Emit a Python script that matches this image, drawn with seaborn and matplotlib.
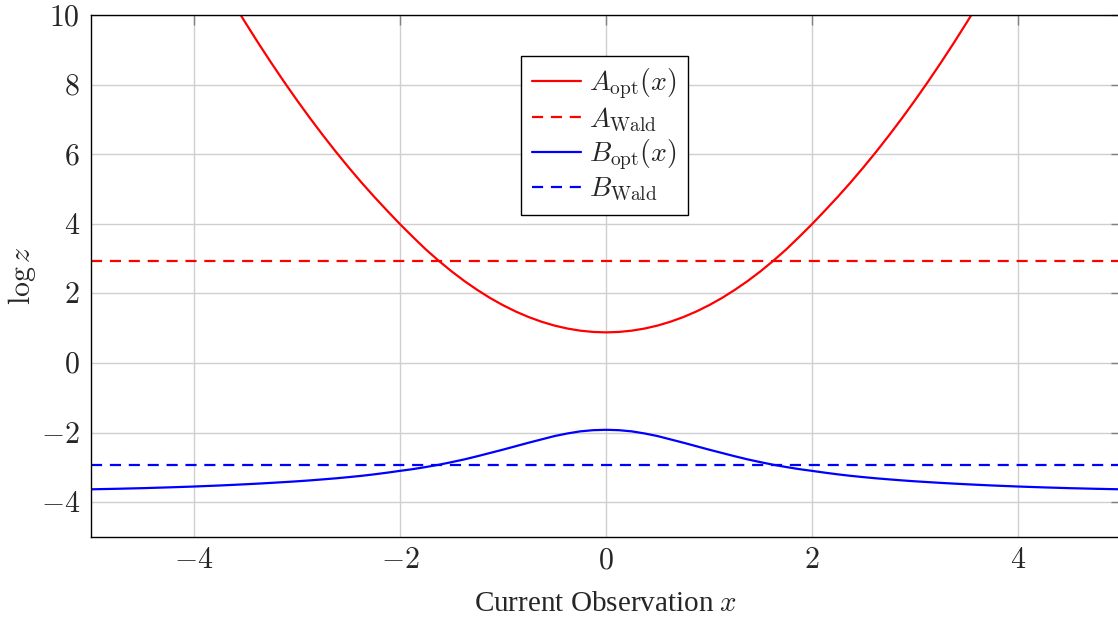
import numpy as np
import pandas as pd
import matplotlib
matplotlib.use("Agg")
import matplotlib.pyplot as plt
import seaborn as sns

# values
x_vals = [-5.0, -4.75, -4.5, -4.25, -4.0, -3.75, -3.625, -3.5, -3.375, -3.25, -3.125, -3.0,
          -2.875, -2.75, -2.625, -2.5, -2.375, -2.25, -2.125, -2.0, -1.875, -1.75, -1.625,
          -1.5, -1.375, -1.25, -1.125, -1.0, -0.875, -0.75, -0.625, -0.5, -0.375, -0.25,
          -0.125, 0.0, 0.125, 0.25, 0.375, 0.5, 0.625, 0.75, 0.875, 1.0, 1.125, 1.25, 1.375,
          1.5, 1.625, 1.75, 1.875, 2.0, 2.125, 2.25, 2.375, 2.5, 2.625, 2.75, 2.875, 3.0,
          3.125, 3.25, 3.375, 3.5, 3.625, 3.75, 4.0, 4.25, 4.5, 4.75, 5.0]
a_opt = [18.2, 16.6, 15.1, 13.7, 12.3, 11.0, 10.378, 9.775, 9.19, 8.625, 8.078, 7.55,
         7.04, 6.55, 6.078, 5.625, 5.19, 4.775, 4.378, 3.99, 3.622, 3.265, 2.94,
         2.635, 2.355, 2.10, 1.867, 1.66, 1.477, 1.319, 1.185, 1.075, 0.99, 0.929,
         0.892, 0.88, 0.892, 0.929, 0.99, 1.075, 1.185, 1.319, 1.477, 1.66, 1.867, 2.10, 2.355,
         2.635, 2.94, 3.265, 3.622, 3.99, 4.378, 4.775, 5.19, 5.625, 6.078, 6.55, 7.04, 7.55,
         8.078, 8.625, 9.19, 9.775, 10.378, 11.0, 12.3, 13.7, 15.1, 16.6, 18.2]
b_opt = [-3.63, -3.615, -3.597, -3.575, -3.55, -3.52, -3.503, -3.485, -3.466, -3.445, -3.423, -3.40,
         -3.374, -3.345, -3.315, -3.28, -3.243, -3.20, -3.152, -3.10, -3.05, -2.99, -2.925,
         -2.85, -2.77, -2.68, -2.585, -2.49, -2.39, -2.29, -2.195, -2.10, -2.025, -1.965,
         -1.931, -1.92, -1.931, -1.965, -2.025, -2.10, -2.195, -2.29, -2.39, -2.49, -2.585, -2.68, -2.77,
         -2.85, -2.925, -2.99, -3.05, -3.10, -3.152, -3.20, -3.243, -3.28, -3.315, -3.345, -3.374, -3.40,
         -3.423, -3.445, -3.466, -3.485, -3.503, -3.52, -3.55, -3.575, -3.597, -3.615, -3.63]
a_wald = 2.94
b_wald = -2.94

x_ticks = [-4, -2, 0, 2, 4]
y_ticks = [-4, -2, 0, 2, 4, 6, 8, 10]

df = pd.DataFrame({"x": x_vals, "A": a_opt, "B": b_opt})

sns.set_style("white")
plt.rcParams["mathtext.fontset"] = "cm"
plt.rcParams["font.family"] = ["Liberation Serif", "DejaVu Serif"]

fig = plt.figure(figsize=(11.18, 6.2), dpi=100)
ax = fig.add_axes([0.0814, 0.1339, 0.9213, 0.8419])

lw = 1.6
sns.lineplot(data=df, x="x", y="A", color="red", lw=lw, ax=ax, label=r"$A_{\mathrm{opt}}(x)$")
ax.axhline(a_wald, color="red", lw=lw, dashes=(5, 3.5), label=r"$A_{\mathrm{Wald}}$")
sns.lineplot(data=df, x="x", y="B", color="blue", lw=lw, ax=ax, label=r"$B_{\mathrm{opt}}(x)$")
ax.axhline(b_wald, color="blue", lw=lw, dashes=(5, 3.5), label=r"$B_{\mathrm{Wald}}$")

ax.set_xlim(-5, 5)
ax.set_ylim(-5, 10)
ax.set_xticks(x_ticks)
ax.set_yticks(y_ticks)
ax.set_xticklabels([f"${v}$" for v in x_ticks], fontsize=21.5)
ax.set_yticklabels([f"${v}$" for v in y_ticks], fontsize=21.5)
ax.tick_params(axis="both", direction="in", length=7, width=1, color="#808080",
               top=True, right=True)
ax.tick_params(axis="y", pad=8)
ax.tick_params(axis="x", pad=8)
ax.grid(True, color="#cfcfcf", lw=1)
ax.set_axisbelow(True)
for s in ax.spines.values():
    s.set_color("black")
    s.set_linewidth(1)

ax.set_xlabel(r"Current Observation $x$", fontsize=21, labelpad=12)
ax.set_ylabel(r"$\log z$", fontsize=21.5, labelpad=2)

leg = ax.legend(loc="upper center", bbox_to_anchor=(0.4985, 0.922), fontsize=20,
                frameon=True, fancybox=False, framealpha=1, edgecolor="black",
                handlelength=1.75, handletextpad=0.31, labelspacing=0.15,
                borderpad=0.4, borderaxespad=0)
leg.get_frame().set_linewidth(1)

fig.savefig("out.png", dpi=100)
